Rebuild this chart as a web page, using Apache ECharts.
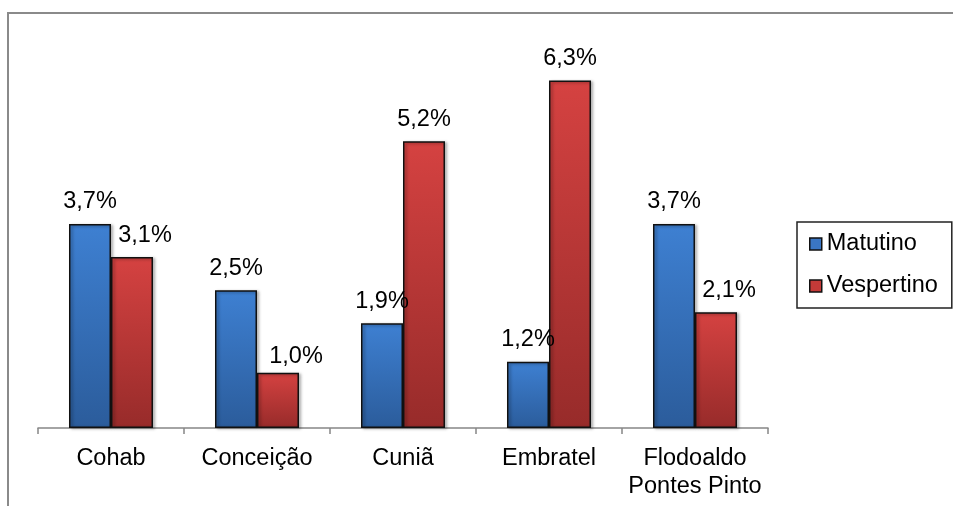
<!DOCTYPE html>
<html>
<head>
<meta charset="utf-8">
<script src="https://cdn.jsdelivr.net/npm/echarts@6/dist/echarts.min.js"></script>
<style>
  html, body { margin: 0; padding: 0; background: #ffffff; }
  #chart { width: 953px; height: 506px; }
</style>
</head>
<body>
<div id="chart"></div>
<script>
// Neighbourhoods and the share per shift (%)
const bairros = ['Cohab', 'Conceição', 'Cuniã', 'Embratel', 'Flodoaldo\nPontes Pinto'];
const matutino = [3.7, 2.5, 1.9, 1.2, 3.7];
const vespertino = [3.1, 1.0, 5.2, 6.3, 2.1];

// label nudges for the afternoon bars that sit beside a taller morning bar
const vespLabelOffset = [[13, 0], [18, 6], [0, 0], [0, 0], [13, 0]];

const FONT = "'Liberation Sans', Arial, sans-serif";
const FS = 23.5;
const fmt = (p) => p.value.toFixed(1).replace('.', ',') + '%';

function grad(top, bottom) {
  return new echarts.graphic.LinearGradient(0, 0, 0, 1, [
    { offset: 0, color: top },
    { offset: 1, color: bottom }
  ]);
}

const barStyle = (top, bottom) => ({
  color: grad(top, bottom),
  borderColor: '#111111',
  borderWidth: 1.5,
  shadowBlur: 3,
  shadowOffsetX: 2,
  shadowOffsetY: 1,
  shadowColor: 'rgba(0,0,0,0.35)'
});

const labelBase = {
  show: true,
  position: 'top',
  distance: 10,
  fontFamily: FONT,
  fontSize: FS,
  color: '#000000',
  formatter: fmt
};

const chart = echarts.init(document.getElementById('chart'), null, { renderer: 'canvas' });

chart.setOption({
  animation: false,
  backgroundColor: '#ffffff',
  graphic: [{
    type: 'rect',
    shape: { x: 8, y: 13, width: 2000, height: 2000 },
    style: { fill: 'none', stroke: '#8a8a8a', lineWidth: 2 },
    z: 0
  }],
  grid: { left: 38, right: 185, top: 42, bottom: 78 },
  legend: {
    orient: 'vertical',
    left: 797,
    top: 222,
    padding: [10, 14, 10, 12],
    itemGap: 18,
    itemWidth: 12,
    itemHeight: 12,
    borderColor: '#222222',
    borderWidth: 1.5,
    icon: 'rect',
    textStyle: { fontFamily: FONT, fontSize: FS, color: '#000000' },
    data: [
      { name: 'Matutino', itemStyle: { color: '#3a76c4', borderColor: '#111', borderWidth: 1.5 } },
      { name: 'Vespertino', itemStyle: { color: '#c43a38', borderColor: '#111', borderWidth: 1.5 } }
    ]
  },
  xAxis: {
    type: 'category',
    data: bairros,
    axisLine: { show: true, lineStyle: { color: '#868686', width: 1.5 } },
    axisTick: { show: true, length: 6, lineStyle: { color: '#868686', width: 1.5 } },
    axisLabel: {
      fontFamily: FONT,
      fontSize: FS,
      lineHeight: 28,
      color: '#000000',
      margin: 17,
      interval: 0
    }
  },
  yAxis: {
    type: 'value',
    min: 0,
    max: 7,
    show: false,
    splitLine: { show: false }
  },
  series: [
    {
      name: 'Matutino',
      type: 'bar',
      barWidth: 42,
      barGap: '0%',
      data: matutino,
      itemStyle: barStyle('#3e80d2', '#2b5c9b'),
      label: labelBase
    },
    {
      name: 'Vespertino',
      type: 'bar',
      barWidth: 42,
      barGap: '0%',
      data: vespertino.map((v, i) => ({ value: v, label: { offset: vespLabelOffset[i] } })),
      itemStyle: barStyle('#d54241', '#972b2a'),
      label: labelBase
    }
  ]
});
</script>
</body>
</html>
